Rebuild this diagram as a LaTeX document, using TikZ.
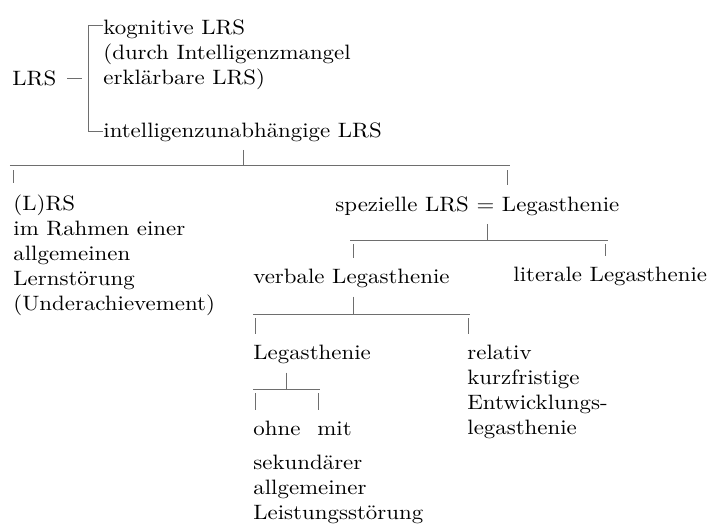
\documentclass[tikz,border=0pt]{standalone}
\usepackage{tikz}
\usetikzlibrary{calc}
\definecolor{stem}{RGB}{110,110,110}
\font\treefont="[lmroman10-regular]:mapping=tex-text;extend=1.1" at 10.4pt

\tikzset{
  txt/.style={anchor=north west, inner sep=0pt, align=left,
    font={\treefont\baselineskip=12.5pt}},
  conn/.style={draw=stem, line width=0.5pt}
}

\begin{document}
\begin{tikzpicture}[x=0.5pt,y=-0.5pt]
  \useasboundingbox (0,0) rectangle (709,525);
  % top level: LRS with bracket
  \node[txt] (lrs) at (12,70) {LRS};
  \node[txt] (kog) at (103,19) {kognitive LRS\\(durch Intelligenzmangel\\erklärbare LRS)};
  \node[txt] (ind) at (103,122) {intelligenzunabhängige LRS};
  \coordinate (dl) at (67,78);
  \coordinate (dr) at (82,78);
  \coordinate (bt) at (88,25);
  \coordinate (bb) at (88,131);
  \draw[conn] (dl) -- (dr);
  \draw[conn] (kog.west |- bt) -- (bt) -- (bb) -- (ind.west |- bb);
  % second level
  \node[txt] (rahmen) at (13,194) {(L)RS\\im Rahmen einer\\allgemeinen\\Lernstörung\\(Underachievement)};
  \node[txt] (spez) at (335,196) {spezielle LRS = Legasthenie};
  % third level
  \node[txt] (verb) at (253,269) {verbale Legasthenie};
  \node[txt] (lit) at (513,267) {literale Legasthenie};
  % fourth level
  \node[txt] (leg) at (253,345) {Legasthenie};
  \node[txt] (rel) at (467,345) {relativ\\kurzfristige\\Entwicklungs-\\legasthenie};
  % fifth level
  \node[txt] (ohne) at (253,421) {ohne};
  \node[txt] (mit) at (317,421) {mit};
  \node[txt] (sek) at (253,455) {sekundärer\\allgemeiner\\Leistungsstörung};
  % bars: tick from parent, bar ends
  \coordinate (t1) at (243,165); \coordinate (a1) at (10,165);  \coordinate (b1) at (510,165);
  \coordinate (t2) at (487,240); \coordinate (a2) at (350,240); \coordinate (b2) at (608,240);
  \coordinate (t3) at (353,314); \coordinate (a3) at (253,314); \coordinate (b3) at (470,314);
  \coordinate (t4) at (286,389); \coordinate (a4) at (253,389); \coordinate (b4) at (320,389);
  \foreach \i/\p in {1/ind,2/spez,3/verb,4/leg} {
    \draw[conn] (a\i) -- (b\i);
    \draw[conn] ([yshift=-4pt]\p.south -| t\i) -- (t\i);
  }
  % drops to children
  \coordinate (c1) at (13,170);  \coordinate (c2) at (507,170);
  \coordinate (c3) at (353,244); \coordinate (c4) at (605,244);
  \coordinate (c5) at (255,318); \coordinate (c6) at (468,318);
  \coordinate (c7) at (255,393); \coordinate (c8) at (318,393);
  \foreach \c/\n in {c1/rahmen,c2/spez,c3/verb,c4/lit,c5/leg,c6/rel,c7/ohne,c8/mit} {
    \draw[conn] (\c) -- ([yshift=5.5pt]\n.north -| \c);
  }
\end{tikzpicture}
\end{document}
